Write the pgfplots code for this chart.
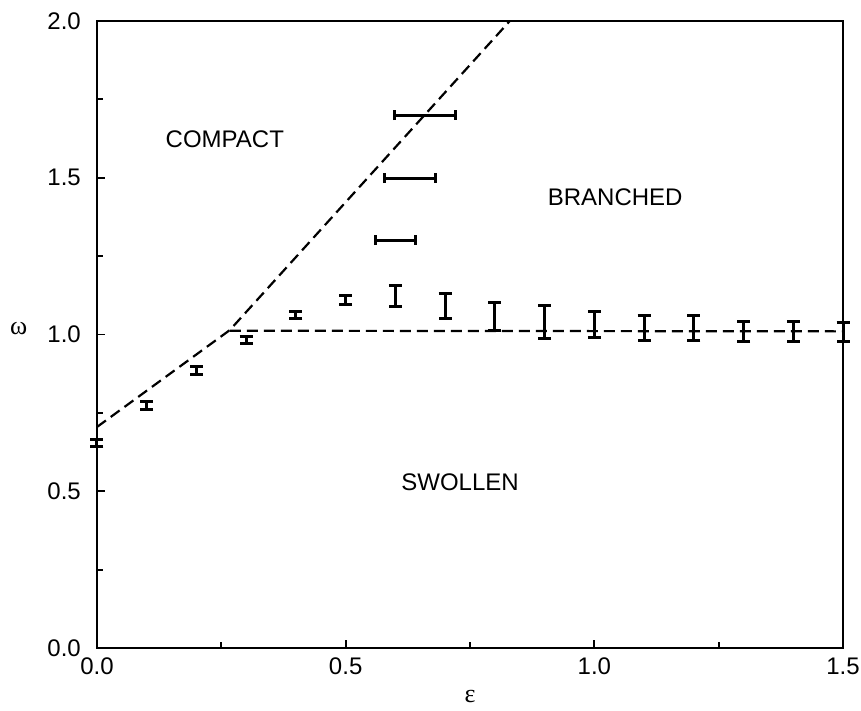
\documentclass[border=0pt]{standalone}
\usepackage{pgfplots}
\pgfplotsset{compat=1.18}
\usepackage{fontspec}
\setmainfont{Liberation Sans}
\newfontfamily\greek{Liberation Serif}
\begin{document}
\fontsize{24}{28}\selectfont
\begin{tikzpicture}
\useasboundingbox (-97pt,-63pt) rectangle (764pt,648pt);
\begin{axis}[
  at={(0,0)}, anchor=south west,
  scale only axis, width=746pt, height=627pt,
  xmin=0, xmax=1.5, ymin=0, ymax=2,
  xtick={0,0.5,1,1.5}, ytick={0,0.5,1,1.5,2},
  minor xtick={0.25,0.75,1.25}, minor ytick={0.25,0.75,1.25,1.75},
  tick pos=left, tick align=inside,
  major tick length=8pt, minor tick length=6pt,
  /pgf/number format/assume math mode=true,
  /pgf/number format/fixed, /pgf/number format/fixed zerofill,
  /pgf/number format/precision=1,
  axis line style={line width=2.5pt},
  every tick/.style={line width=1.8pt, black},
  yticklabel style={xshift=-8pt},
  xticklabel style={yshift=-2pt},
  every axis y label/.style={at={(axis description cs:-0.105,0.51)},anchor=center},
  every axis x label/.style={at={(axis description cs:0.5,-0.078)},anchor=center},
  xlabel={{\greek\fontsize{26}{30}\selectfont ε}}, ylabel={{\greek\fontsize{26}{30}\selectfont ω}},
  clip=false,
]
\addplot[black, line width=2.2pt, dash pattern=on 11pt off 6pt] coordinates {(0,0.705) (0.267,1.014) (0.83,2.0)};
\addplot[black, line width=2.2pt, dash pattern=on 11pt off 6pt] coordinates {(0.267,1.012) (1.5,1.01)};
\addplot[draw=none, mark=none,
  error bars/.cd, y dir=both, y explicit,
  error bar style={draw=black, solid, line width=3pt},
  error mark options={draw=black, solid, rotate=90, line width=3pt, mark size=6.5pt}]
  table[x=x, y=y, y error=e] {
x y e
0.0 0.654 0.010
0.1 0.774 0.012
0.2 0.884 0.013
0.3 0.982 0.011
0.4 1.062 0.010
0.5 1.110 0.013
0.6 1.122 0.033
0.7 1.091 0.040
0.8 1.058 0.044
0.9 1.040 0.052
1.0 1.032 0.041
1.1 1.021 0.041
1.2 1.021 0.041
1.3 1.009 0.032
1.4 1.009 0.032
1.5 1.009 0.030
};
\addplot[draw=none, mark=none,
  error bars/.cd, x dir=both, x explicit,
  error bar style={draw=black, solid, line width=3pt},
  error mark options={draw=black, solid, rotate=90, line width=3pt, mark size=5pt}]
  table[x=x, y=y, x error=e] {
x y e
0.600 1.301 0.041
0.630 1.499 0.051
0.660 1.700 0.061
};
\node at (axis cs:0.257,1.624) {COMPACT};
\node at (axis cs:1.042,1.439) {BRANCHED};
\node at (axis cs:0.730,0.530) {SWOLLEN};
\end{axis}
\end{tikzpicture}
\end{document}
